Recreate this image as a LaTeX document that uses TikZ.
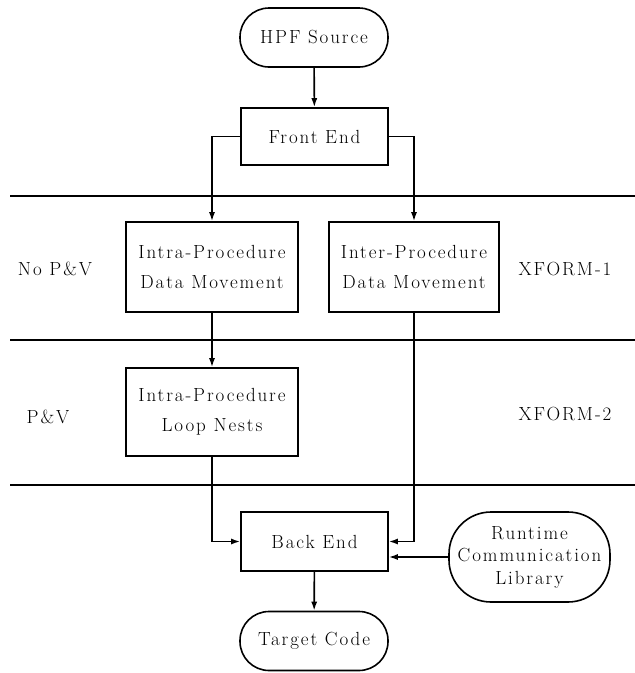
\documentclass[tikz,border=0pt]{standalone}
\usepackage{fontspec}
\setmainfont{Latin Modern Roman}[LetterSpace=10]
\usetikzlibrary{arrows.meta}
\begin{document}
\begin{tikzpicture}[x=1pt,y=-1pt,
  every node/.style={font=\fontsize{19}{30}\selectfont, align=center, inner sep=0pt},
  box/.style={draw, line width=1.6pt, minimum width=#1},
  stadium/.style={draw, line width=1.6pt, rounded corners=29pt, minimum width=148pt, minimum height=59pt},
  arr/.style={line width=1.6pt, -{Latex[length=9pt,width=6pt]}},
  sep/.style={line width=1.4pt}]
\useasboundingbox (0,0) rectangle (635,673);
% separators
\coordinate (s1a) at (10,196); \coordinate (s1b) at (635,196);
\coordinate (s2a) at (10,340); \coordinate (s2b) at (635,340);
\coordinate (s3a) at (10,485); \coordinate (s3b) at (635,485);
\draw[sep] (s1a) -- (s1b);
\draw[sep] (s2a) -- (s2b);
\draw[sep] (s3a) -- (s3b);
% nodes
\node[stadium] (hpf) at (314,37.5) {HPF Source};
\node[box=147pt, minimum height=57pt] (fe) at (314.5,136.5) {Front End};
\node[box=172pt, minimum height=90pt] (intradm) at (212,267) {Intra-Procedure\\Data Movement};
\node[box=170pt, minimum height=90pt] (interdm) at (414,267) {Inter-Procedure\\Data Movement};
\node[box=172pt, minimum height=88pt] (loop) at (212,412) {Intra-Procedure\\Loop Nests};
\node[box=147pt, minimum height=59pt] (be) at (314.5,541.5) {Back End};
\node[draw, line width=1.6pt, rounded corners=42pt, minimum width=161pt, minimum height=90pt,
      font=\fontsize{19}{22.5}\selectfont] (rt) at (529.5,557) {Runtime\\Communication\\Library};
\node[stadium] (tc) at (314,641) {Target Code};
% labels
\node (l1) at (55,269) {No P\&V};
\node (l2) at (48,417) {P\&V};
\node (x1) at (565,269) {XFORM-1};
\node (x2) at (565,414) {XFORM-2};
% connectors
\draw[arr] (hpf) -- (fe);
\draw[arr] (fe.west) -| (intradm.north);
\draw[arr] (fe.east) -| (interdm.north);
\draw[arr] (intradm) -- (loop);
\draw[arr] (loop.south) |- (be.west);
\draw[arr] (interdm.south) |- (be.east);
\draw[arr] (rt.west) -- (rt.west -| be.east);
\draw[arr] (be) -- (tc);
\end{tikzpicture}
\end{document}
